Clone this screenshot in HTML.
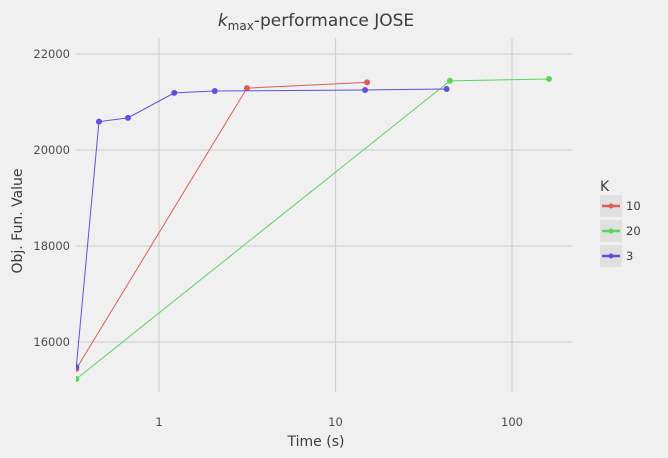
<!DOCTYPE html>
<html><head><meta charset="utf-8"><style>
html,body{margin:0;padding:0;background:#f0f0f0;overflow:hidden;width:668px;height:458px;font-family:"Liberation Sans","DejaVu Sans",sans-serif;}
svg{display:block;}
svg text{font-family:"DejaVu Sans","Liberation Sans",sans-serif;}
</style></head><body>
<svg width="668" height="458" xmlns="http://www.w3.org/2000/svg">
<rect width="668" height="458" fill="#f0f0f0"/>
<g id="grid"></g>
<g id="series"></g>
<g id="axes"></g>
<text x="316" y="26" text-anchor="middle" font-size="17" fill="#3c3c3c"><tspan font-style="italic">k</tspan><tspan font-size="12" dy="4">max</tspan><tspan dy="-4">-performance JOSE</tspan></text>
<text x="316" y="446" text-anchor="middle" font-size="14" fill="#3c3c3c">Time (s)</text>
<text transform="translate(22,221) rotate(-90)" text-anchor="middle" font-size="14" fill="#3c3c3c">Obj. Fun. Value</text>
<g id="legend">
<text x="600" y="191" font-size="14" fill="#3c3c3c">K</text>
</g>
</svg>
<script>
const seriesNames=["10","20","3"];
const seriesColors=["#e05a5a","#5ad55a","#6050e0"];
const timesK10=[0.34,3.15,15.1];
const valuesK10=[15440,21290,21410];
const timesK20=[0.34,44.5,162];
const valuesK20=[15230,21440,21480];
const timesK3=[0.34,0.457,0.667,1.22,2.07,14.7,42.6];
const valuesK3=[15480,20590,20670,21190,21230,21250,21270];
const xTicks=[1,10,100];
const xTickLabels=["1","10","100"];
const yTicks=[16000,18000,20000,22000];
const yTickLabels=["16000","18000","20000","22000"];

const L=76,R=572,T=38,B=392;
const xs=t=>159+Math.log10(t)*176.5;
const ys=v=>54+(22000-v)*0.048;
const NS="http://www.w3.org/2000/svg";
function mk(tag,attrs,parent,txt){const e=document.createElementNS(NS,tag);for(const k in attrs)e.setAttribute(k,attrs[k]);if(txt!==undefined)e.textContent=txt;parent.appendChild(e);return e;}
const grid=document.getElementById('grid'),axes=document.getElementById('axes'),ser=document.getElementById('series'),leg=document.getElementById('legend');
xTicks.forEach((t,i)=>{
 const l=mk('line',{x1:xs(t),x2:xs(t),y1:T,y2:B,stroke:'#d2d2d2','stroke-width':1.2},grid);
 
 
 const tx=mk('text',{x:xs(t),y:426,'text-anchor':'middle','font-size':11.5,fill:'#4d4d4d'},axes,xTickLabels[i]);
 
 
});
yTicks.forEach((v,i)=>{
 const l=mk('line',{x1:L,x2:R,y1:ys(v),y2:ys(v),stroke:'#d2d2d2','stroke-width':1.2},grid);
 
 
 const tx=mk('text',{x:70,y:ys(v)+4,'text-anchor':'end','font-size':11.5,fill:'#4d4d4d'},axes,yTickLabels[i]);
 
 
});
const data=[[timesK10,valuesK10],[timesK20,valuesK20],[timesK3,valuesK3]];
const clip=mk('clipPath',{id:'pc'},ser);mk('rect',{x:L,y:T,width:R-L,height:B-T},clip);
const g=mk('g',{'clip-path':'url(#pc)'},ser);
data.forEach((d,si)=>{
 const pts=d[0].map((t,i)=>xs(t)+','+ys(d[1][i])).join(' ');
 const pl=mk('polyline',{points:pts,fill:'none',stroke:seriesColors[si],'stroke-width':1},g);
 
 
 d[0].forEach((t,i)=>{
  const c=mk('circle',{cx:xs(t),cy:ys(d[1][i]),r:3,fill:seriesColors[si]},g);
  
  
 });
 const y=206+si*25;
 const bx=mk('rect',{x:600,y:y-11,width:22,height:22,fill:'#e0e0e0'},leg);
 
 
 mk('line',{x1:602,x2:620,y1:y,y2:y,stroke:seriesColors[si],'stroke-width':2.5},leg);
 mk('circle',{cx:611,cy:y,r:2.5,fill:seriesColors[si]},leg);
 const lt=mk('text',{x:626,y:y+4,'font-size':11.5,fill:'#3c3c3c'},leg,seriesNames[si]);
 
 
});
</script>
</body></html>
